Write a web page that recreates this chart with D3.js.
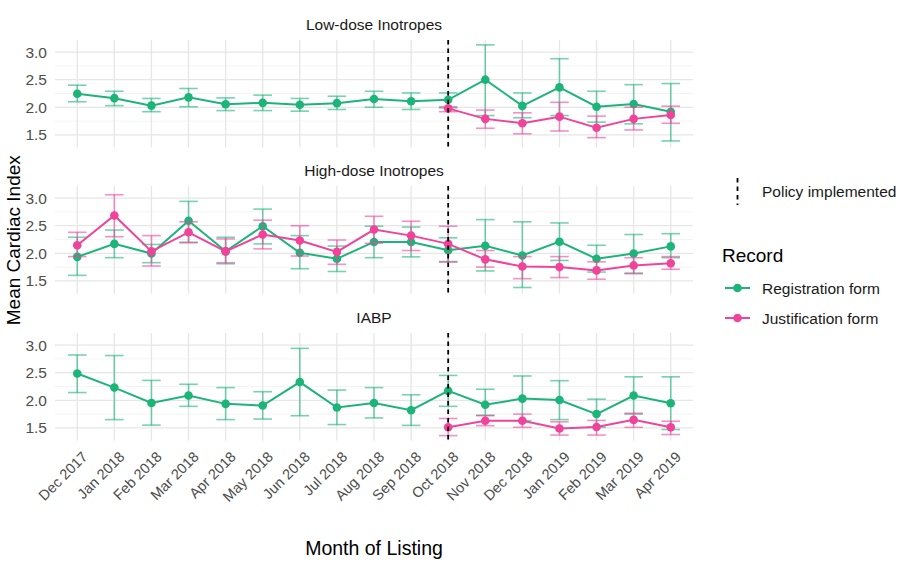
<!DOCTYPE html>
<html>
<head>
<meta charset="utf-8">
<script src="https://cdn.jsdelivr.net/npm/d3@7"></script>
<style>
  html, body { margin: 0; padding: 0; background: #ffffff; }
  svg { display: block; font-family: "Liberation Sans", Arial, sans-serif; }
</style>
</head>
<body>
<svg id="chart" width="900" height="566"></svg>
<script>
// ---- Data ----
const months = ["Dec 2017","Jan 2018","Feb 2018","Mar 2018","Apr 2018","May 2018","Jun 2018","Jul 2018","Aug 2018","Sep 2018","Oct 2018","Nov 2018","Dec 2018","Jan 2019","Feb 2019","Mar 2019","Apr 2019"];
const panels = ["Low-dose Inotropes","High-dose Inotropes","IABP"];
const seriesNames = ["Registration form","Justification form"];
const policyMonth = "Oct 2018";
const yTicks = [1.5, 2.0, 2.5, 3.0];

// Low-dose Inotropes
const lowRegMean = [2.245,2.165,2.03,2.18,2.055,2.08,2.045,2.075,2.15,2.11,2.135,2.50,2.025,2.36,2.01,2.06,1.92];
const lowRegLo   = [2.10,2.03,1.92,2.01,1.94,1.94,1.93,1.96,2.00,1.96,1.99,1.85,1.81,1.85,1.73,1.70,1.39];
const lowRegHi   = [2.40,2.29,2.16,2.34,2.17,2.22,2.16,2.20,2.29,2.26,2.26,3.13,2.26,2.88,2.29,2.41,2.43];
const lowJusMean = [null,null,null,null,null,null,null,null,null,null,1.98,1.79,1.71,1.83,1.63,1.79,1.86];
const lowJusLo   = [null,null,null,null,null,null,null,null,null,null,1.92,1.62,1.52,1.57,1.45,1.59,1.71];
const lowJusHi   = [null,null,null,null,null,null,null,null,null,null,2.01,1.95,1.90,2.09,1.84,2.00,2.02];

// High-dose Inotropes
const highRegMean = [1.935,2.17,1.995,2.59,2.035,2.49,2.01,1.90,2.205,2.205,2.055,2.135,1.96,2.21,1.90,1.995,2.125];
const highRegLo   = [1.60,1.92,1.83,2.20,1.81,2.17,1.72,1.67,1.92,1.935,1.85,1.68,1.38,1.87,1.66,1.64,1.92];
const highRegHi   = [2.29,2.42,2.16,2.94,2.29,2.80,2.32,2.13,2.49,2.475,2.28,2.61,2.57,2.55,2.145,2.34,2.355];
const highJusMean = [2.145,2.685,2.035,2.38,2.035,2.34,2.23,2.025,2.43,2.32,2.17,1.89,1.76,1.75,1.69,1.78,1.82];
const highJusLo   = [1.94,2.30,1.77,2.19,1.83,2.08,1.95,1.80,2.18,2.05,1.84,1.75,1.54,1.56,1.53,1.63,1.71];
const highJusHi   = [2.38,3.06,2.32,2.57,2.26,2.60,2.50,2.24,2.67,2.58,2.49,2.05,1.94,1.94,1.845,1.92,1.94];

// IABP
const iabpRegMean = [2.485,2.23,1.95,2.085,1.935,1.905,2.33,1.87,1.95,1.82,2.17,1.92,2.03,2.005,1.75,2.085,1.945];
const iabpRegLo   = [2.14,1.65,1.55,1.89,1.65,1.66,1.72,1.56,1.68,1.545,1.89,1.73,1.63,1.65,1.51,1.75,1.47];
const iabpRegHi   = [2.82,2.81,2.36,2.29,2.23,2.155,2.94,2.185,2.23,2.10,2.45,2.20,2.44,2.355,2.02,2.425,2.425];
const iabpJusMean = [null,null,null,null,null,null,null,null,null,null,1.51,1.63,1.63,1.49,1.515,1.645,1.51];
const iabpJusLo   = [null,null,null,null,null,null,null,null,null,null,1.36,1.54,1.51,1.37,1.37,1.51,1.38];
const iabpJusHi   = [null,null,null,null,null,null,null,null,null,null,1.67,1.72,1.75,1.61,1.635,1.765,1.62];

// ---- Build table ----
const panelData = [
  { name: panels[0], series: [[lowRegMean, lowRegLo, lowRegHi], [lowJusMean, lowJusLo, lowJusHi]] },
  { name: panels[1], series: [[highRegMean, highRegLo, highRegHi], [highJusMean, highJusLo, highJusHi]] },
  { name: panels[2], series: [[iabpRegMean, iabpRegLo, iabpRegHi], [iabpJusMean, iabpJusLo, iabpJusHi]] }
];
panelData.forEach(p => {
  p.series = p.series.map((s, si) => ({
    key: seriesNames[si],
    points: months.map((m, i) => ({ month: m, mean: s[0][i], lo: s[1][i], hi: s[2][i] })).filter(d => d.mean != null)
  }));
});

const colors = { "Registration form": "#1db47a", "Justification form": "#f0449b" };

// ---- Layout ----
const svg = d3.select("#chart");
const plotLeft = 55, plotRight = 693;
const panelTops = [40, 186, 333];
const panelH = 107.5;

const allLo = [], allHi = [];
panelData.forEach(p => p.series.forEach(s => s.points.forEach(d => { allLo.push(d.lo); allHi.push(d.hi); })));
const yMin = d3.min(allLo), yMax = d3.max(allHi);
const pad = (yMax - yMin) * 0.05;
const yDomain = [yMin - pad, yMax + pad];

const x = d3.scalePoint().domain(months).range([plotLeft, plotRight]).padding(0.6);
const step = x.step();
const minorTicks = [];
for (let i = 0; i < yTicks.length - 1; i++) minorTicks.push((yTicks[i] + yTicks[i+1]) / 2);
minorTicks.push(yTicks[yTicks.length-1] + 0.25);
minorTicks.push(yTicks[0] - 0.25);

panelData.forEach((p, pi) => {
  const top = panelTops[pi];
  const y = d3.scaleLinear().domain(yDomain).range([top + panelH, top]);
  const g = svg.append("g");

  // minor grid
  g.selectAll(".minor").data(minorTicks.filter(t => t > yDomain[0] && t < yDomain[1])).enter()
    .append("line")
    .attr("x1", plotLeft).attr("x2", plotRight)
    .attr("y1", d => y(d)).attr("y2", d => y(d))
    .attr("stroke", "#f1f1f1").attr("stroke-width", 0.8);
  // major grid
  g.selectAll(".major").data(yTicks).enter()
    .append("line")
    .attr("x1", plotLeft).attr("x2", plotRight)
    .attr("y1", d => y(d)).attr("y2", d => y(d))
    .attr("stroke", "#e6e6e6").attr("stroke-width", 1.3);
  // vertical grid
  g.selectAll(".vgrid").data(months).enter()
    .append("line")
    .attr("x1", d => x(d)).attr("x2", d => x(d))
    .attr("y1", top).attr("y2", top + panelH)
    .attr("stroke", "#e6e6e6").attr("stroke-width", 1.3);

  // y axis labels
  const yAxis = d3.axisLeft(y).tickValues(yTicks).tickFormat(d3.format(".1f")).tickSize(0).tickPadding(0);
  const ya = g.append("g").attr("transform", `translate(${plotLeft - 8},0)`).call(yAxis);
  ya.select(".domain").remove();
  ya.selectAll("text").attr("fill", "#4d4d4d").style("font-size", "15.5px")
    .style("font-family", "'Liberation Sans', Arial, sans-serif");

  // strip title
  g.append("text").attr("x", (plotLeft + plotRight) / 2).attr("y", top - 10)
    .attr("text-anchor", "middle").attr("fill", "#1a1a1a").style("font-size", "15.5px")
    .text(p.name);

  // series
  p.series.forEach(s => {
    const c = colors[s.key];
    const sg = g.append("g");
    // error bars
    const eb = sg.selectAll(".eb").data(s.points).enter().append("g")
      .attr("stroke", c).attr("stroke-opacity", 0.6).attr("stroke-width", 1.6);
    eb.append("line").attr("x1", d => x(d.month)).attr("x2", d => x(d.month))
      .attr("y1", d => y(d.lo)).attr("y2", d => y(d.hi));
    eb.append("line").attr("x1", d => x(d.month) - step * 0.25).attr("x2", d => x(d.month) + step * 0.25)
      .attr("y1", d => y(d.lo)).attr("y2", d => y(d.lo));
    eb.append("line").attr("x1", d => x(d.month) - step * 0.25).attr("x2", d => x(d.month) + step * 0.25)
      .attr("y1", d => y(d.hi)).attr("y2", d => y(d.hi));
    // line
    sg.append("path").datum(s.points)
      .attr("fill", "none").attr("stroke", c).attr("stroke-width", 2)
      .attr("d", d3.line().x(d => x(d.month)).y(d => y(d.mean)));
    // points
    sg.selectAll("circle").data(s.points).enter().append("circle")
      .attr("cx", d => x(d.month)).attr("cy", d => y(d.mean)).attr("r", 4.3).attr("fill", c);
  });

  // policy line
  g.append("line").attr("x1", x(policyMonth)).attr("x2", x(policyMonth))
    .attr("y1", top).attr("y2", top + panelH)
    .attr("stroke", "#000").attr("stroke-width", 1.8).attr("stroke-dasharray", "4.5,4");
});

// x axis labels
const lastBottom = panelTops[2] + panelH;
svg.append("g").selectAll("text").data(months).enter().append("text")
  .attr("transform", d => `translate(${x(d) + 4},${lastBottom + 10}) rotate(-45)`)
  .attr("text-anchor", "end").attr("dy", "0.7em")
  .attr("fill", "#4d4d4d").style("font-size", "14.5px")
  .text(d => d);

// axis titles
svg.append("text").attr("x", (plotLeft + plotRight) / 2).attr("y", 555)
  .attr("text-anchor", "middle").attr("fill", "#000").style("font-size", "19.5px").text("Month of Listing");
svg.append("text").attr("transform", `translate(20,${(panelTops[0] + lastBottom) / 2}) rotate(-90)`)
  .attr("text-anchor", "middle").attr("fill", "#000").style("font-size", "19px").text("Mean Cardiac Index");

// legend
const lg = svg.append("g");
lg.append("line").attr("x1", 737.5).attr("x2", 737.5).attr("y1", 178).attr("y2", 205)
  .attr("stroke", "#000").attr("stroke-width", 1.8).attr("stroke-dasharray", "4.5,4");
lg.append("text").attr("x", 762).attr("y", 197).attr("fill", "#1a1a1a").style("font-size", "15.5px").text("Policy implemented");
lg.append("text").attr("x", 722).attr("y", 262).attr("fill", "#000").style("font-size", "19px").text("Record");
seriesNames.forEach((n, i) => {
  const yy = 288 + i * 30;
  lg.append("line").attr("x1", 725).attr("x2", 750).attr("y1", yy).attr("y2", yy)
    .attr("stroke", colors[n]).attr("stroke-width", 2);
  lg.append("circle").attr("cx", 737.5).attr("cy", yy).attr("r", 4.3).attr("fill", colors[n]);
  lg.append("text").attr("x", 762).attr("y", yy + 5.5).attr("fill", "#1a1a1a").style("font-size", "15.5px").text(n);
});
</script>
</body>
</html>
